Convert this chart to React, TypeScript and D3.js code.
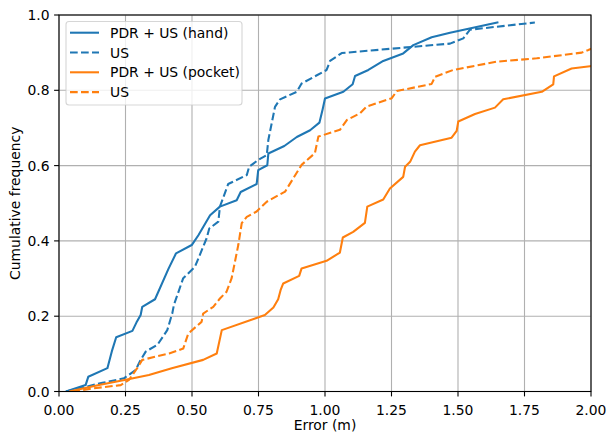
import React from "react";
import * as d3 from "d3";

type P = [number, number];

const handFused: P[] = [
  [0.026, 0], [0.1, 0.017], [0.11, 0.039], [0.182, 0.062], [0.2, 0.11], [0.215, 0.144],
  [0.276, 0.161], [0.291, 0.183], [0.307, 0.203], [0.313, 0.225], [0.361, 0.245],
  [0.411, 0.325], [0.44, 0.367], [0.499, 0.389], [0.524, 0.415], [0.568, 0.468],
  [0.605, 0.491], [0.668, 0.508], [0.683, 0.53], [0.743, 0.551], [0.749, 0.588],
  [0.783, 0.601], [0.787, 0.632], [0.847, 0.652], [0.894, 0.676], [0.944, 0.694],
  [0.979, 0.714], [0.991, 0.749], [1.0, 0.778], [1.069, 0.796], [1.104, 0.816],
  [1.113, 0.838], [1.163, 0.854], [1.219, 0.878], [1.294, 0.898], [1.332, 0.92],
  [1.401, 0.941], [1.47, 0.953], [1.652, 0.981],
];

const handUS: P[] = [
  [0.026, 0], [0.163, 0.023], [0.244, 0.035], [0.288, 0.057], [0.307, 0.084],
  [0.326, 0.106], [0.37, 0.124], [0.407, 0.163], [0.426, 0.208], [0.432, 0.23],
  [0.467, 0.301], [0.511, 0.331], [0.555, 0.407], [0.565, 0.433], [0.599, 0.451],
  [0.605, 0.491], [0.636, 0.551], [0.706, 0.575], [0.715, 0.597], [0.749, 0.615],
  [0.781, 0.628], [0.787, 0.668], [0.812, 0.756], [0.831, 0.776], [0.894, 0.796],
  [0.912, 0.818], [1.006, 0.854], [1.019, 0.878], [1.063, 0.899], [1.307, 0.914],
  [1.47, 0.924], [1.52, 0.938], [1.545, 0.961], [1.789, 0.98],
];

const pocketFused: P[] = [
  [0.038, 0], [0.15, 0.017], [0.251, 0.031], [0.338, 0.044], [0.424, 0.062],
  [0.542, 0.084], [0.593, 0.101], [0.612, 0.163], [0.737, 0.194], [0.774, 0.203],
  [0.806, 0.223], [0.824, 0.245], [0.833, 0.269], [0.843, 0.287], [0.903, 0.307],
  [0.912, 0.327], [1.006, 0.347], [1.056, 0.369], [1.067, 0.409], [1.106, 0.424],
  [1.15, 0.448], [1.159, 0.491], [1.219, 0.51], [1.244, 0.539], [1.294, 0.57],
  [1.301, 0.597], [1.32, 0.61], [1.338, 0.637], [1.357, 0.654], [1.476, 0.674],
  [1.495, 0.692], [1.501, 0.717], [1.564, 0.737], [1.639, 0.754], [1.67, 0.776],
  [1.815, 0.796], [1.858, 0.816], [1.861, 0.837], [1.927, 0.858], [1.996, 0.864],
  [2.05, 0.868],
];

const pocketUS: P[] = [
  [0.05, 0], [0.125, 0.008], [0.232, 0.017], [0.263, 0.031], [0.294, 0.062],
  [0.313, 0.084], [0.414, 0.101], [0.451, 0.11], [0.467, 0.114], [0.486, 0.154],
  [0.536, 0.185], [0.542, 0.207], [0.58, 0.225], [0.605, 0.247], [0.63, 0.265],
  [0.649, 0.301], [0.674, 0.389], [0.687, 0.447], [0.706, 0.464], [0.743, 0.478],
  [0.781, 0.504], [0.85, 0.531], [0.912, 0.602], [0.962, 0.633], [0.975, 0.677],
  [1.056, 0.695], [1.082, 0.721], [1.132, 0.739], [1.157, 0.757], [1.251, 0.779],
  [1.27, 0.798], [1.401, 0.817], [1.414, 0.836], [1.482, 0.854], [1.645, 0.876],
  [1.796, 0.885], [1.965, 0.9], [1.99, 0.907], [2.05, 0.925],
];

const xTicks = [0, 0.25, 0.5, 0.75, 1.0, 1.25, 1.5, 1.75, 2.0];
const yTicks = [0, 0.2, 0.4, 0.6, 0.8, 1.0];

const seriesNames = ["PDR + US (hand)", "US", "PDR + US (pocket)", "US"];

const W = 607;
const H = 434;
const L = 59, R = 591, T = 15, B = 391.5;
const FONT = "DejaVu Sans, sans-serif";
const FS = 13.9;
const BLUE = "#1f77b4";
const ORANGE = "#ff7f0e";
const DASH = "7.7,3.3";

export default function App() {
  const x = d3.scaleLinear().domain([0, 2]).range([L, R]);
  const y = d3.scaleLinear().domain([0, 1]).range([B, T]);
  const line = d3.line<P>().x((d) => x(d[0])).y((d) => y(d[1]));

  const series = [
    { data: handFused, color: BLUE, dash: undefined as string | undefined },
    { data: handUS, color: BLUE, dash: DASH },
    { data: pocketFused, color: ORANGE, dash: undefined },
    { data: pocketUS, color: ORANGE, dash: DASH },
  ];

  return (
    <svg width={W} height={H} style={{ position: "absolute", left: 0, top: 0, background: "#fff" }}>
      <defs>
        <clipPath id="plotclip">
          <rect x={L} y={T} width={R - L} height={B - T} />
        </clipPath>
      </defs>
      <rect x={0} y={0} width={W} height={H} fill="#fff" />
      {/* grid */}
      <g stroke="#b0b0b0" strokeWidth={1.1}>
        {xTicks.map((t) => (
          <line key={"gx" + t} x1={x(t)} x2={x(t)} y1={T} y2={B} />
        ))}
        {yTicks.map((t) => (
          <line key={"gy" + t} x1={L} x2={R} y1={y(t)} y2={y(t)} />
        ))}
      </g>
      {/* series */}
      <g clipPath="url(#plotclip)" fill="none" strokeWidth={2.08} strokeLinejoin="round">
        {series.map((s, i) => (
          <path key={i} d={line(s.data) || ""} stroke={s.color} strokeDasharray={s.dash} />
        ))}
      </g>
      {/* spines */}
      <rect x={L} y={T} width={R - L} height={B - T} fill="none" stroke="#000" strokeWidth={1.1} />
      {/* ticks */}
      <g stroke="#000" strokeWidth={1.1}>
        {xTicks.map((t) => (
          <line key={"tx" + t} x1={x(t)} x2={x(t)} y1={B} y2={B + 4.9} />
        ))}
        {yTicks.map((t) => (
          <line key={"ty" + t} x1={L - 4.9} x2={L} y1={y(t)} y2={y(t)} />
        ))}
      </g>
      <g fontFamily={FONT} fontSize={FS} fill="#000">
        {xTicks.map((t) => (
          <text key={"lx" + t} x={x(t)} y={415} textAnchor="middle">
            {t.toFixed(2)}
          </text>
        ))}
        {yTicks.map((t) => (
          <text key={"ly" + t} x={49.5} y={y(t) + 5} textAnchor="end">
            {t.toFixed(1)}
          </text>
        ))}
        <text x={(L + R) / 2} y={430} textAnchor="middle">Error (m)</text>
        <text transform={`translate(20,${(T + B) / 2}) rotate(-90)`} textAnchor="middle">
          Cumulative frequency
        </text>
      </g>
      {/* legend */}
      <g>
        <rect x={66} y={21.5} width={176} height={83.5} rx={3} fill="#fff" fillOpacity={0.8}
          stroke="#cccccc" strokeOpacity={0.8} strokeWidth={1.1} />
        {series.map((s, i) => {
          const yy = 32.7 + i * 19.8;
          return (
            <g key={"lg" + i}>
              <line x1={70} x2={99} y1={yy} y2={yy} stroke={s.color} strokeWidth={2.08}
                strokeDasharray={s.dash} />
              <text x={110} y={yy + 5} fontFamily={FONT} fontSize={FS} fill="#000">
                {seriesNames[i]}
              </text>
            </g>
          );
        })}
      </g>
    </svg>
  );
}
